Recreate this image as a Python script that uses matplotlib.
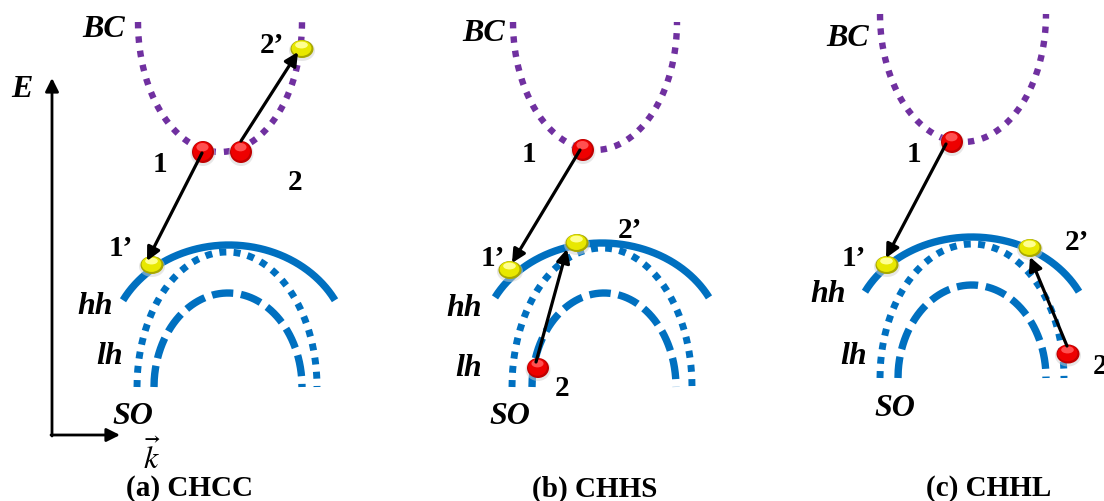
import numpy as np
import matplotlib
matplotlib.use("Agg")
import matplotlib.pyplot as plt
from matplotlib.patches import Ellipse

# ---------------- data (pixel coordinates of the schematic) ----------------
panel_titles = ["(a) CHCC", "(b) CHHS", "(c) CHHL"]
title_x = [190, 595, 989]
title_y = 489

# conduction band (BC): lower half ellipse
bc_cx = [220, 595, 963]
bc_top = [22, 22, 14]
bc_bottom = [152, 150, 142]
bc_halfw = [82, 82, 83]

# heavy hole (solid), partial upper ellipse
hh_cx = [229, 602, 972]
hh_top = [245, 243, 237]
hh_a = [120, 121, 120]
hh_b = [104, 102, 100]
hh_span = [106, 107, 107]

# light hole (dotted), upper half ellipse
lh_cx = [227, 602, 972]
lh_base = [387, 387, 378]
lh_a = [90, 90, 92]
lh_b = [135, 139, 134]

# split-off (dashed), upper half ellipse
so_cx = [228, 604, 972]
so_base = [387, 387, 378]
so_a = [74, 72, 74]
so_b = [94, 94, 93]

# carriers
red_balls = [[(203, 152), (241, 152)], [(583, 150)], [(952, 142), (1068, 354)]]
red_balls_b2 = [(538, 368)]
yellow_balls = [[(152, 265), (302, 49)], [(510, 270), (577, 243)], [(887, 265), (1030, 248)]]

# arrows: (x0, y0) -> (x1, y1)
arrows = [
    [((202, 153), (147, 261)), ((241, 141), (298, 52))],
    [((580, 150), (512, 263)), ((536, 362), (567, 249))],
    [((946, 144), (886, 258)), ((1067, 346), (1030, 257))],
]

# labels: (text, x, y, italic)
labels = [
    ("BC", 104, 29, True), ("E", 22, 89, True), ("1", 160, 164, False),
    ("2", 295, 183, False), ("2’", 272, 45, False), ("1’", 121, 249, False),
    ("hh", 95, 306, True), ("lh", 110, 357, True), ("SO", 133, 416, True),
    ("BC", 484, 33, True), ("1", 529, 155, False), ("1’", 493, 259, False),
    ("2’", 630, 230, False), ("hh", 464, 308, True), ("lh", 469, 368, True),
    ("2", 562, 388, False), ("SO", 510, 417, True),
    ("BC", 848, 38, True), ("1", 914, 154, False), ("1’", 854, 258, False),
    ("2’", 1077, 242, False), ("hh", 828, 295, True), ("lh", 854, 356, True),
    ("2", 1100, 366, False), ("SO", 895, 408, True),
]

PURPLE = "#7030A0"
BLUE = "#0070C0"

# ---------------- drawing ----------------
fig = plt.figure(figsize=(11.04, 5.01), dpi=100)
ax = fig.add_axes([0, 0, 1, 1])
ax.set_xlim(0, 1104)
ax.set_ylim(501, 0)
ax.axis("off")

serif = "Liberation Serif"


def lower_half(cx, top, bottom, a, n=300):
    t = np.linspace(np.pi, 2 * np.pi, n)
    x = cx + a * np.cos(t)
    y = top + (bottom - top) * np.abs(np.sin(t))
    return x, y


def upper_arc(cx, cy, a, b, span, n=300):
    x = np.linspace(cx - span, cx + span, n)
    y = cy - b * np.sqrt(np.clip(1 - ((x - cx) / a) ** 2, 0, 1))
    return x, y


for i in range(3):
    # BC
    x, y = lower_half(bc_cx[i], bc_top[i], bc_bottom[i], bc_halfw[i], n=800)
    ax.plot(x, y, color=PURPLE, lw=4.6, ls=(0, (1.0, 1.25)),
            dash_capstyle="butt", zorder=2)
    # hh
    cy = hh_top[i] + hh_b[i]
    x, y = upper_arc(hh_cx[i], cy, hh_a[i], hh_b[i], hh_span[i])
    ax.plot(x, y, color=BLUE, lw=5.3, solid_capstyle="butt", zorder=2)
    # lh
    x, y = upper_arc(lh_cx[i], lh_base[i], lh_a[i], lh_b[i], lh_a[i], n=1200)
    ax.plot(x, y, color=BLUE, lw=5.0, ls=(0, (1.0, 1.05)), dash_capstyle="butt", zorder=2)
    # SO
    x, y = upper_arc(so_cx[i], so_base[i], so_a[i], so_b[i], so_a[i], n=1200)
    ax.plot(x, y, color=BLUE, lw=5.3, ls=(0, (2.9, 1.05)), dash_capstyle="butt", zorder=2)


def ball(x, y, w, h, base, dark, light, z=4):
    ax.add_patch(Ellipse((x, y + 1.5), w + 3, h + 3, color="#d0d0d0", alpha=0.5, lw=0, zorder=z))
    ax.add_patch(Ellipse((x, y), w, h, color=dark, lw=0, zorder=z))
    ax.add_patch(Ellipse((x - 0.5, y - 0.8), w * 0.86, h * 0.86, color=base, lw=0, zorder=z))
    ax.add_patch(Ellipse((x - 0.5, y - h * 0.22), w * 0.55, h * 0.38, color=light, lw=0, zorder=z))


RED = ("#ee0000", "#c00000", "#ff5050")
YEL = ("#e8e800", "#a8a800", "#ffff90")

for i in range(3):
    for (x, y) in red_balls[i]:
        if i == 2 and y > 300:
            ball(x, y, 23, 19, *RED)
        else:
            ball(x, y, 22, 22, *RED)
    for (x, y) in yellow_balls[i]:
        ball(x, y, 23, 18, *YEL)
for (x, y) in red_balls_b2:
    ball(x, y, 22, 20, *RED)

for i in range(3):
    for (p0, p1) in arrows[i]:
        ax.annotate("", xy=p1, xytext=p0,
                    arrowprops=dict(arrowstyle="-|>", color="black", lw=2.3,
                                    mutation_scale=20, shrinkA=0, shrinkB=0),
                    zorder=6)

# E-k axes
ax.annotate("", xy=(52, 78), xytext=(52, 436),
            arrowprops=dict(arrowstyle="-|>", color="black", lw=2.0,
                            mutation_scale=20, shrinkA=0, shrinkB=0))
ax.annotate("", xy=(120, 435), xytext=(51, 435),
            arrowprops=dict(arrowstyle="-|>", color="black", lw=2.0,
                            mutation_scale=20, shrinkA=0, shrinkB=0))

plt.rcParams["mathtext.fontset"] = "stix"
ax.text(152, 458, r"$\vec{k}$", fontsize=23, ha="center", va="center")

for (t, x, y, it) in labels:
    ax.text(x, y, t, fontsize=23 if it else 21, fontweight="bold",
            fontstyle="italic" if it else "normal",
            family=serif, ha="center", va="center", zorder=7)

for i in range(3):
    ax.text(title_x[i], title_y, panel_titles[i], fontsize=21, fontweight="bold",
            family=serif, ha="center", va="center")

fig.savefig("out.png", dpi=100)
